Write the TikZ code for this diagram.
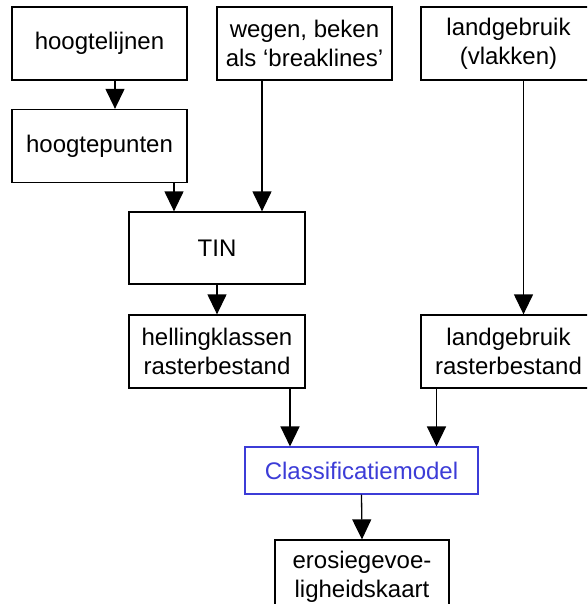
\documentclass[tikz,border=0pt]{standalone}
\usepackage{fontspec}
\setmainfont{Liberation Sans}
\usetikzlibrary{arrows.meta}
\definecolor{modelblue}{RGB}{60,60,215}
\begin{document}
\begin{tikzpicture}[x=1pt,y=-1pt,
  box/.style={draw=black, line width=1.3pt, minimum width=175pt, minimum height=73pt,
    inner sep=0pt, align=center, font=\fontsize{24}{29}\selectfont},
  modelbox/.style={box, draw=modelblue, text=modelblue, line width=1.1pt,
    minimum width=233pt, minimum height=47pt},
  link/.style={line width=1.3pt, -{Triangle[length=20pt,width=19pt]}}]
\useasboundingbox (0,0) rectangle (587,604);
\clip (0,0) rectangle (587,604);

% input data
\node[box] (hl) at (99.5,43.5) {hoogtelijnen};
\node[box] (hp) at (99.5,146) {hoogtepunten};
\node[box] (wb) at (304.5,43.5) {wegen, beken\\als ‘breaklines’};
\node[box] (lv) at (508.5,43.5) {landgebruik\\(vlakken)};

% derived layers
\node[box, minimum width=176pt, minimum height=72pt] (tin) at (217,248) {TIN};
\node[box, minimum width=176pt] (hr) at (217,351.5) {hellingklassen\\rasterbestand};
\node[box] (lr) at (508.5,351.5) {landgebruik\\rasterbestand};

% model and result
\node[modelbox] (cm) at (361.5,470.5) {Classificatiemodel};
\node[box, minimum width=174pt] (ek) at (362,576.5) {erosiegevoe-\\ligheidskaart};

% flow
\draw[link] ([xshift=15.5pt]hl.south) -- ([xshift=15.5pt]hp.north);
\draw[link] ([xshift=74.5pt]hp.south) -- ([xshift=-43pt]tin.north);
\draw[link] ([xshift=-42.5pt]wb.south) -- ([xshift=45pt]tin.north);
\draw[link] ([xshift=15pt]lv.south) -- ([xshift=15pt]lr.north);
\draw[link] (tin.south) -- (hr.north);
\draw[link] ([xshift=73pt]hr.south) -- ([xshift=-71.5pt]cm.north);
\draw[link] ([xshift=-72pt]lr.south) -- ([xshift=75pt]cm.north);
\draw[link] (cm.south) -- (ek.north);
\end{tikzpicture}
\end{document}
